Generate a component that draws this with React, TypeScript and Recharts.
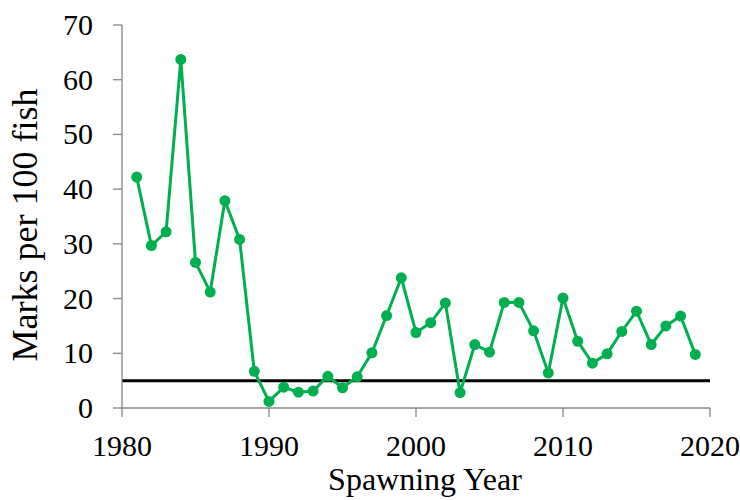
import { LineChart, Line, XAxis, YAxis, ReferenceLine, Label } from "recharts";

const years = [
  1981, 1982, 1983, 1984, 1985, 1986, 1987, 1988, 1989, 1990,
  1991, 1992, 1993, 1994, 1995, 1996, 1997, 1998, 1999, 2000,
  2001, 2002, 2003, 2004, 2005, 2006, 2007, 2008, 2009, 2010,
  2011, 2012, 2013, 2014, 2015, 2016, 2017, 2018, 2019,
];
const marks = [
  42.2, 29.7, 32.2, 63.7, 26.6, 21.2, 37.9, 30.8, 6.7, 1.2,
  3.8, 2.9, 3.1, 5.8, 3.7, 5.7, 10.1, 16.9, 23.8, 13.8,
  15.6, 19.2, 2.8, 11.6, 10.2, 19.3, 19.3, 14.1, 6.4, 20.1,
  12.2, 8.2, 9.9, 14.0, 17.7, 11.6, 15.0, 16.8, 9.8,
];
const xTicks = [1980, 1990, 2000, 2010, 2020];
const yTicks = [0, 10, 20, 30, 40, 50, 60, 70];
const threshold = 5;

const data = years.map((y, i) => ({ year: y, marks: marks[i] }));

const font = "'Liberation Serif', 'Times New Roman', serif";
const green = "#00B050";
const axisGray = "#868686";

const serif = { fontFamily: font };

// ticks drawn by hand so they get the serif face
const renderXTick = (props: any) => {
  const { x, y, payload } = props;
  return (
    <text x={x} y={y + 21} textAnchor="middle" fontSize={30} style={serif} fill="#000">
      {payload.value}
    </text>
  );
};

const renderYTick = (props: any) => {
  const { x, y, payload } = props;
  return (
    <text x={x} y={y + 10} textAnchor="end" fontSize={30} style={serif} fill="#000">
      {payload.value}
    </text>
  );
};

const XTitle = (props: any) => {
  const { viewBox } = props;
  return (
    <text
      x={viewBox.x + viewBox.width / 2 + 9}
      y={490}
      textAnchor="middle"
      fontSize={32}
      style={serif}
      fill="#000"
    >
      Spawning Year
    </text>
  );
};

const YTitle = () => (
  <text
    x={25}
    y={225}
    transform="rotate(-90, 25, 225)"
    textAnchor="middle"
    dominantBaseline="central"
    fontSize={36}
    style={serif}
    fill="#000"
  >
    Marks per 100 fish
  </text>
);

export default function App() {
  return (
    <div style={{ position: "absolute", left: 0, top: 0, background: "#fff", fontFamily: font }}>
      <LineChart
        width={740}
        height={500}
        data={data}
        margin={{ top: 25, right: 30, bottom: 0, left: 0 }}
      >
        <XAxis
          dataKey="year"
          type="number"
          domain={[1980, 2020]}
          ticks={xTicks}
          height={92}
          tickSize={9}
          tickMargin={18}
          stroke={axisGray}
          strokeWidth={1.3}
          tick={renderXTick}
        >
          <Label content={<XTitle />} />
        </XAxis>
        <YAxis
          type="number"
          domain={[0, 70]}
          ticks={yTicks}
          width={122}
          tickSize={9}
          tickMargin={20}
          stroke={axisGray}
          strokeWidth={1.3}
          tick={renderYTick}
        >
          <Label content={<YTitle />} />
        </YAxis>
        <ReferenceLine y={threshold} stroke="#000" strokeWidth={3} />
        <Line
          type="linear"
          dataKey="marks"
          stroke={green}
          strokeWidth={3}
          dot={{ r: 5.5, fill: green, stroke: green, strokeWidth: 0 }}
          isAnimationActive={false}
        />
      </LineChart>
    </div>
  );
}
